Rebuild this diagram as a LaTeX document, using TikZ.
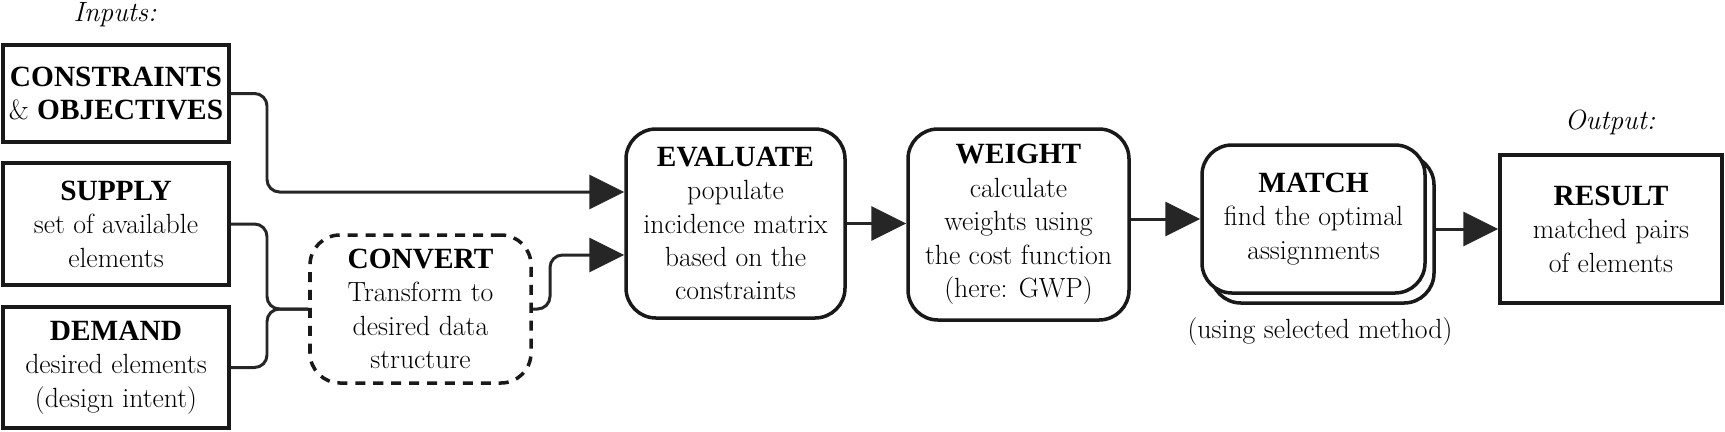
\documentclass[tikz,border=0pt]{standalone}
\usepackage{fontspec}
\newfontfamily\hdfont{Liberation Serif Bold}
\newcommand{\hd}[1]{{\hdfont\fontsize{16.7}{19}\selectfont #1}}
\usepackage{tikz}
\usetikzlibrary{arrows.meta, positioning, calc}

\begin{document}
\begin{tikzpicture}[
    font=\fontsize{15.8}{19}\selectfont,
    inbox/.style={rectangle,draw=black!90,line width=2pt,fill=white,inner xsep=3pt,minimum width=4.52cm,align=center},
    stepbox/.style={rectangle,draw=black!90,line width=2pt,fill=white,inner xsep=3pt,rounded corners=0.6cm,align=center},
    lbl/.style={font=\fontsize{15.8}{19}\selectfont\itshape},
    conn/.style={line width=1.7pt,draw=black!85,rounded corners=0.25cm},
    arr/.style={conn,-{Triangle[length=0.7cm,width=0.68cm]}}
]
    \useasboundingbox (0,0) rectangle (34.5,-8.62);

    % Inputs
    \node[lbl] (inlbl) at (2.3,-0.3) {Inputs:};
    \node[inbox,minimum height=1.94cm] (cons) at (2.32,-1.87) {\hd{CONSTRAINTS}\\\& \hd{OBJECTIVES}};
    \node[inbox,minimum height=2.44cm] (supply) at (2.32,-4.48) {\hd{SUPPLY}\\set of available\\elements};
    \node[inbox,minimum height=2.42cm] (demand) at (2.32,-7.35) {\hd{DEMAND}\\desired elements\\(design intent)};

    % Convert (optional step)
    \node[stepbox,dash pattern=on 5.7pt off 4.5pt,minimum width=4.42cm,minimum height=2.96cm] (conv) at (8.41,-6.18) {\hd{CONVERT}\\Transform to\\desired data\\structure};

    % Steps
    \node[stepbox,minimum width=4.38cm,minimum height=3.78cm] (eval) at (14.71,-4.47) {\hd{EVALUATE}\\populate\\incidence matrix\\based on the\\constraints};
    \node[stepbox,minimum width=4.42cm,minimum height=3.82cm] (weight) at (20.37,-4.49) {\hd{WEIGHT}\\calculate\\weights using\\the cost function\\(here: GWP)};
    \node[stepbox,minimum width=4.46cm,minimum height=2.96cm] (matchbk) at (26.45,-4.58) {};
    \node[stepbox,minimum width=4.46cm,minimum height=2.96cm] (match) at (26.27,-4.38) {\hd{MATCH}\\find the optimal\\assignments};
    \node (method) at (26.4,-6.64) {(using selected method)};

    % Output
    \node[lbl] (outlbl) at (32.2,-2.44) {Output:};
    \node[inbox,minimum width=4.44cm,minimum height=2.96cm] (result) at (32.22,-4.58) {\hd{RESULT}\\matched pairs\\of elements};

    % Connessioni
    \coordinate (k1) at (5.34,-3.84);
    \coordinate (k2) at (5.34,-6.18);
    \coordinate (k3) at (11.0,-5.1);
    \draw[arr] (cons.east) -| (k1) -- (k1 -| eval.west);
    \draw[conn] (supply.east) -| (k2) -- (conv.west);
    \draw[conn] (demand.east) -| (k2) -- (conv.west);
    \draw[arr] (conv.east) -| (k3) -- (k3 -| eval.west);
    \draw[arr] (eval.east) -- (eval.east -| weight.west);
    \draw[arr] (weight.east |- match.west) -- (match.west);
    \draw[arr] (matchbk.east) -- (result.west);
\end{tikzpicture}
\end{document}
